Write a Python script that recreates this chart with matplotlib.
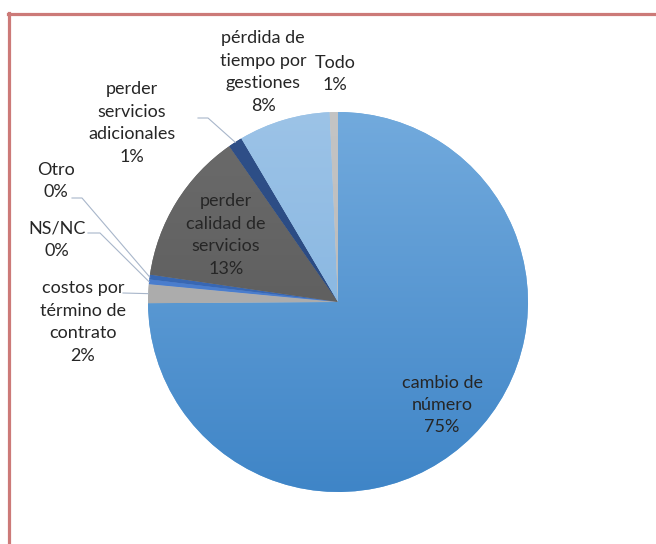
import numpy as np
import matplotlib
matplotlib.use("Agg")
import matplotlib.pyplot as plt
from matplotlib.colors import to_rgb
from matplotlib.lines import Line2D

# ---------------- data ----------------
categories = [
    "cambio de\nnúmero",
    "costos por\ntérmino de\ncontrato",
    "NS/NC",
    "Otro",
    "perder\ncalidad de\nservicios",
    "perder\nservicios\nadicionales",
    "pérdida de\ntiempo por\ngestiones",
    "Todo",
]
values = [74.9, 1.6, 0.4, 0.4, 13.0, 1.2, 7.8, 0.7]

# ---------------- style ----------------
W, H = 656, 544
top_colors = ["#72AADD", "#B8B8B8", "#4E82D2", "#3C6CB8", "#6C6C6C", "#2F5089", "#9CC3E7", "#C4C4C4"]
bot_colors = ["#3F85C7", "#A0A0A0", "#4678C8", "#3463AE", "#545454", "#27457A", "#7AAEDD", "#B4B4B4"]

# label centres in pixel coordinates (x, y from top)
label_pos = [(442, 405), (83, 322), (57, 240), (56, 181), (226, 235), (132, 123), (263, 72), (335, 74)]
# leader line start points (pixel), None = no leader
leader_start = [None, (123, 293), (88, 233), (72, 198), None, (198, 118), None, None]
leader_elbow = [None, None, (100, 233), (82, 198), None, (208, 118), None, None]

cx, cy_px, R = 338, 302, 190

fig = plt.figure(figsize=(W / 100, H / 100), dpi=100)
ax = fig.add_axes([0, 0, 1, 1])


def Y(y):
    return H - y


cy = Y(cy_px)
wedges, _ = ax.pie(values, startangle=90, counterclock=False, radius=R,
                   center=(cx, cy), colors=top_colors,
                   wedgeprops=dict(linewidth=0))

g = np.linspace(0, 1, 256)[:, None, None]
for w, tc, bc in zip(wedges, top_colors, bot_colors):
    t = np.array(to_rgb(tc))[None, None, :]
    b = np.array(to_rgb(bc))[None, None, :]
    img = t * (1 - g) + b * g
    im = ax.imshow(img, extent=(cx - R, cx + R, cy - R, cy + R), origin="upper",
                   aspect="auto", interpolation="bilinear", zorder=w.get_zorder() + 0.1)
    im.set_clip_path(w)

txt_color = "#262626"
font = ["Lato", "DejaVu Sans"]
for i, (cat, v) in enumerate(zip(categories, values)):
    lab = f"{cat}\n{round(v):.0f}%"
    x, y = label_pos[i]
    ax.text(x, Y(y), lab, ha="center", va="center", fontsize=13,
            family=font, color=txt_color, linespacing=1.5, zorder=5)
    if leader_start[i] is not None:
        w = wedges[i]
        mid = np.deg2rad((w.theta1 + w.theta2) / 2)
        ex, ey = cx + R * np.cos(mid), cy + R * np.sin(mid)
        xs = [leader_start[i][0]]
        ys = [Y(leader_start[i][1])]
        if leader_elbow[i] is not None:
            xs.append(leader_elbow[i][0])
            ys.append(Y(leader_elbow[i][1]))
        xs.append(ex)
        ys.append(ey)
        ax.plot(xs, ys, color="#A8B6CA", lw=0.8, zorder=4)

ax.set_xlim(0, W)
ax.set_ylim(0, H)
ax.set_aspect("equal")
ax.axis("off")

# frame lines
bc = "#CC7A78"
fig.add_artist(Line2D([7.5 / W, 1.0], [1 - 13.5 / H, 1 - 13.5 / H], color=bc, lw=2.3,
                      transform=fig.transFigure))
fig.add_artist(Line2D([8.5 / W, 8.5 / W], [1 - 12.5 / H, 0.0], color=bc, lw=2.3,
                      transform=fig.transFigure))

fig.savefig("out.png", dpi=100)
